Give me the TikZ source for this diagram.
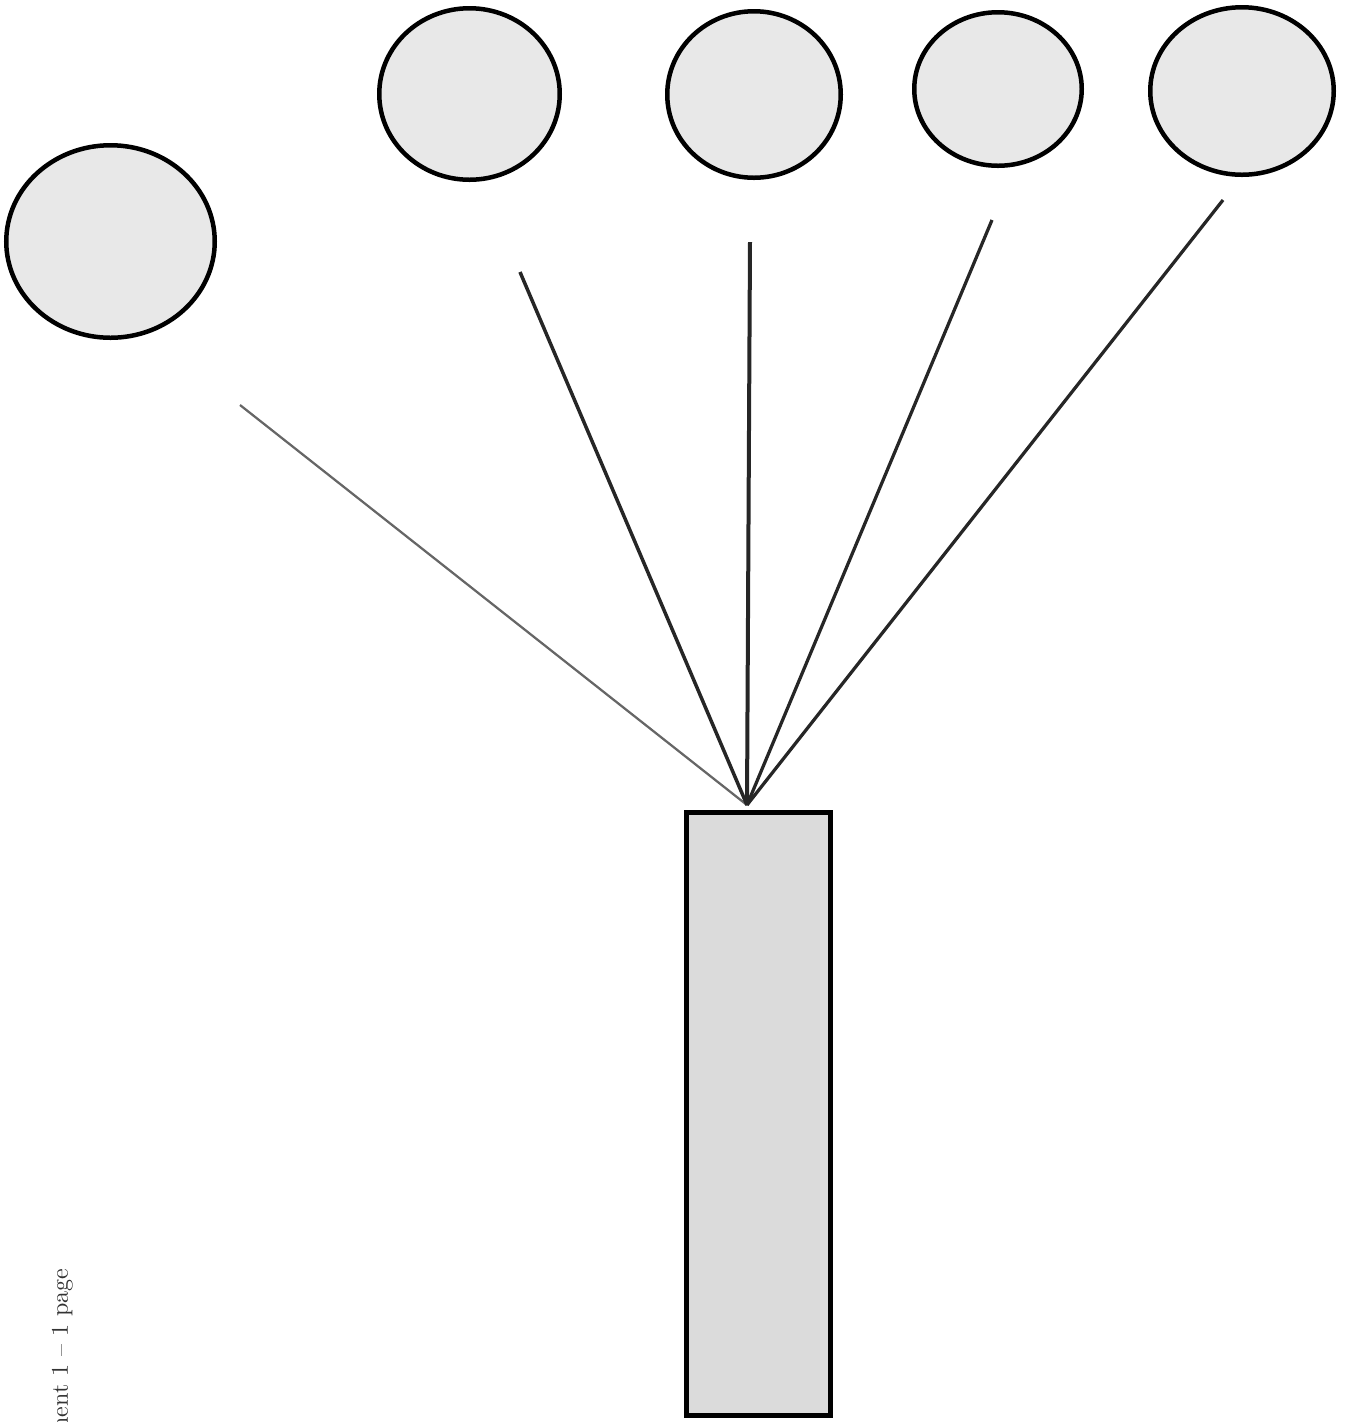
\documentclass[tikz,border=0pt]{standalone}
\usepackage{tikz}
\usetikzlibrary{shapes.geometric}

\begin{document}
\begin{tikzpicture}[x=0.4pt,y=-0.4pt,
  blob/.style={ellipse, draw, line width=1.8pt, fill=black!9, inner sep=0pt},
  stem/.style={draw, line width=2pt, fill=black!14, inner sep=0pt, minimum width=57.6pt, minimum height=241.2pt},
  ray/.style={black!85, line width=1.3pt}]

	\useasboundingbox (0,0) rectangle (1348,1422);

	\node (O1) [blob, minimum width=83.4pt, minimum height=77pt] at (110.5,241.5) {};
	\node (O2) [blob, minimum width=72.2pt, minimum height=68.6pt] at (469.5,94) {};
	\node (O3) [blob, minimum width=69.4pt, minimum height=66.6pt] at (754,94.5) {};
	\node (O4) [blob, minimum width=67pt, minimum height=61.4pt] at (998,89) {};
	\node (O5) [blob, minimum width=73.4pt, minimum height=67pt] at (1242,91) {};
	\node (S) [stem] at (758.5,1114) {};

	\coordinate (tip) at (747,805);
	\coordinate (r1) at (240,405);
	\coordinate (r2) at (520,272);
	\coordinate (r3) at (750,242);
	\coordinate (r4) at (992,220);
	\coordinate (r5) at (1223,200);

	\draw [ray, black!60, line width=0.9pt] (tip) -- (r1);
	\draw [ray, line width=1.4pt] (tip) -- (r2);
	\draw [ray, line width=1.6pt] (tip) -- (r3);
	\draw [ray] (tip) -- (r4);
	\draw [ray] (tip) -- (r5);

	\node (N) [rotate=90, anchor=base east, black!80, inner sep=0pt] at (68,1268) {\fontsize{9.6}{11}\selectfont nent 1 -- 1 page};

\end{tikzpicture}
\end{document}
